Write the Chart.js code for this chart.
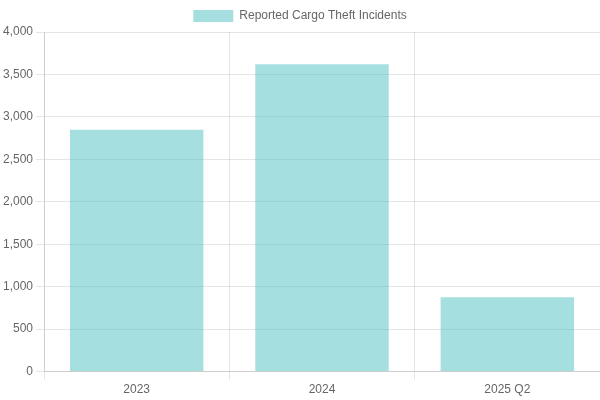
<!DOCTYPE html>
<html><head><script src="https://cdn.jsdelivr.net/npm/chart.js"></script>
<style>body{margin:0}#w{width:600px;height:400px}</style></head>
<body><div id="w"><canvas id="c"></canvas></div>
<script>
const categories = ["2023", "2024", "2025 Q2"];
const incidents = [2850, 3620, 875];
Chart.defaults.font.family = "Liberation Sans, Arial, sans-serif";
new Chart(document.getElementById('c'), {
  type: 'bar',
  data: { labels: categories, datasets: [{ label: 'Reported Cargo Theft Incidents', data: incidents,
    backgroundColor: 'rgba(75,192,192,0.5)', borderWidth: 0 }] },
  options: { responsive: true, maintainAspectRatio: false, animation: false,
    scales: { y: { beginAtZero: true, max: 4000, ticks: { stepSize: 500 } } } }
});
</script></body></html>
